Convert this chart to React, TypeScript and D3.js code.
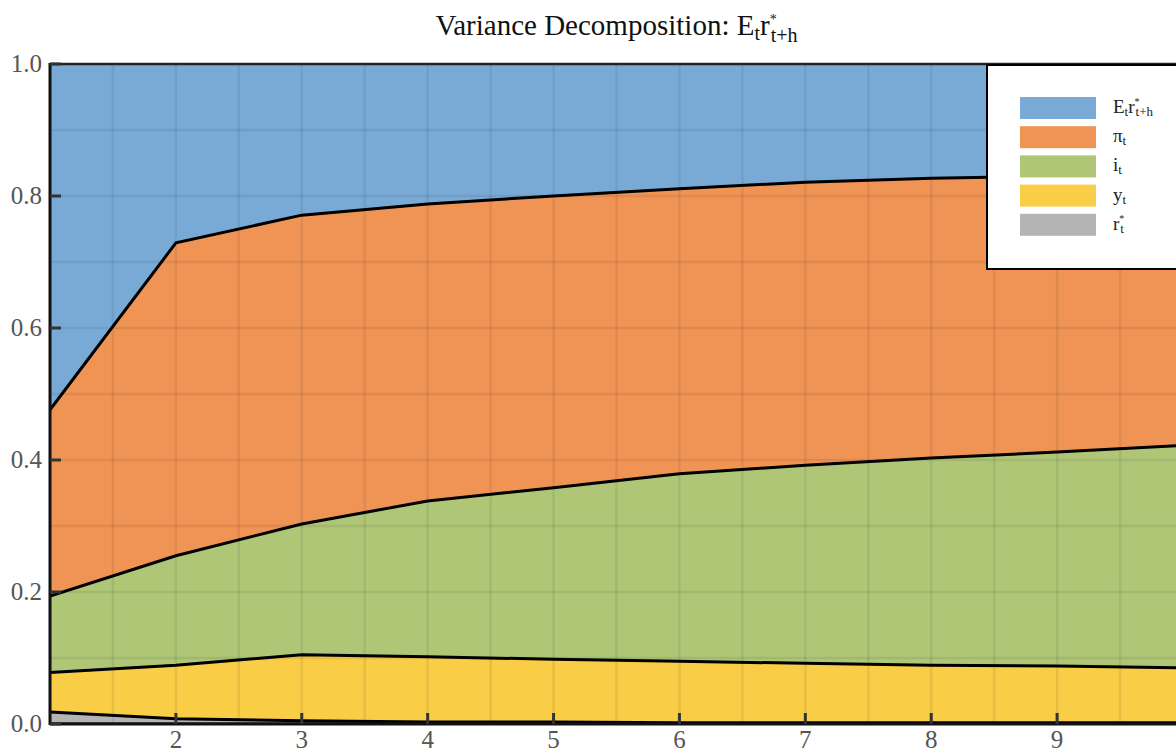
import React from "react";
import * as d3 from "d3";

const horizons = [1, 2, 3, 4, 5, 6, 7, 8, 9, 10];
const rStar = [0.018, 0.008, 0.005, 0.003, 0.003, 0.002, 0.002, 0.002, 0.002, 0.002];
const yGap = [0.06, 0.081, 0.1, 0.099, 0.095, 0.093, 0.09, 0.087, 0.086, 0.083];
const iRate = [0.116, 0.166, 0.198, 0.236, 0.26, 0.284, 0.3, 0.314, 0.324, 0.337];
const piInfl = [0.282, 0.474, 0.468, 0.45, 0.442, 0.432, 0.429, 0.424, 0.418, 0.41];
const expR = [0.524, 0.271, 0.229, 0.212, 0.2, 0.189, 0.179, 0.173, 0.17, 0.168];

const seriesKeys = ["rstar", "y", "i", "pi", "er"];
const seriesColors = ["#b4b4b4", "#f9cd46", "#afc677", "#ef9455", "#79aad5"];
const yTicks = [0, 0.2, 0.4, 0.6, 0.8, 1.0];
const xTicks = [2, 3, 4, 5, 6, 7, 8, 9];

const W = 1176, H = 753;
const left = 50, top = 64, plotRight = 1183, plotBottom = 724;

export default function App() {
  const x = d3.scaleLinear().domain([1, 10]).range([left, plotRight]);
  const y = d3.scaleLinear().domain([0, 1]).range([plotBottom, top]);
  const table = horizons.map((h, k) => ({
    h, rstar: rStar[k], y: yGap[k], i: iRate[k], pi: piInfl[k], er: expR[k],
  }));
  const stacked = d3.stack<any>().keys(seriesKeys)(table);
  const area = d3.area<any>().x((d) => x(d.data.h)).y0((d) => y(d[0])).y1((d) => y(d[1]));
  const line = d3.line<any>().x((d) => x(d.data.h)).y((d) => y(d[1]));
  const baseLine = d3.line<any>().x((d) => x(d.data.h)).y((d) => y(d[0]));

  const gridX = d3.range(1, 10.01, 0.5);
  const gridY = d3.range(0, 1.001, 0.1);
  const fontStyle = { fontFamily: '"Liberation Serif", "DejaVu Serif", serif' };

  const legendItems = [
    { key: "er", color: seriesColors[4] },
    { key: "pi", color: seriesColors[3] },
    { key: "i", color: seriesColors[2] },
    { key: "y", color: seriesColors[1] },
    { key: "rstar", color: seriesColors[0] },
  ];
  const legendLabel = (key: string) => {
    const sub = { fontSize: 13 };
    const sup = { fontSize: 10 };
    if (key === "er")
      return (
        <>
          <tspan>E</tspan>
          <tspan dy={3} style={sub}>t</tspan>
          <tspan dy={-3}>r</tspan>
          <tspan dy={-8} style={sup}>*</tspan>
          <tspan dx={-4} dy={11} style={sub}>t+h</tspan>
        </>
      );
    if (key === "pi") return (<><tspan>π</tspan><tspan dy={3} style={sub}>t</tspan></>);
    if (key === "i") return (<><tspan>i</tspan><tspan dy={3} style={sub}>t</tspan></>);
    if (key === "y") return (<><tspan>y</tspan><tspan dy={3} style={sub}>t</tspan></>);
    return (
      <>
        <tspan>r</tspan>
        <tspan dy={-8} style={sup}>*</tspan>
        <tspan dx={-4} dy={11} style={sub}>t</tspan>
      </>
    );
  };

  return (
    <div style={{ position: "absolute", left: 0, top: 0 }}>
      <svg width={W} height={H} style={{ display: "block", background: "#fff" }}>
        <defs>
          <clipPath id="plotclip">
            <rect x={left} y={top} width={plotRight - left} height={plotBottom - top} />
          </clipPath>
        </defs>
        <text x={(left + plotRight) / 2} y={35} textAnchor="middle" style={fontStyle} fontSize={29} fill="#111">
          <tspan>Variance Decomposition: E</tspan>
          <tspan dy={5} fontSize={20}>t</tspan>
          <tspan dy={-5}>r</tspan>
          <tspan dy={-11} fontSize={14}>*</tspan>
          <tspan dx={-6} dy={18} fontSize={20}>t+h</tspan>
        </text>
        <g clipPath="url(#plotclip)">
          {stacked.map((s, k) => (
            <path key={s.key} d={area(s) || ""} fill={seriesColors[k]} />
          ))}
          {gridX.map((g) => (
            <line key={"gx" + g} x1={x(g)} x2={x(g)} y1={top} y2={plotBottom} stroke="#000" strokeOpacity={0.07} strokeWidth={2.5} />
          ))}
          {gridY.map((g) => (
            <line key={"gy" + g} x1={left} x2={plotRight} y1={y(g)} y2={y(g)} stroke="#000" strokeOpacity={0.07} strokeWidth={2.5} />
          ))}
          <path d={baseLine(stacked[0]) || ""} fill="none" stroke="#000" strokeWidth={3} />
          {stacked.slice(0, 4).map((s) => (
            <path key={"l" + s.key} d={line(s) || ""} fill="none" stroke="#000" strokeWidth={3} />
          ))}
        </g>
        <line x1={left} x2={plotRight} y1={top} y2={top} stroke="#222" strokeWidth={2.5} />
        <line x1={left} x2={left} y1={top - 1} y2={plotBottom + 1} stroke="#111" strokeWidth={3} />
        <line x1={left} x2={plotRight} y1={plotBottom} y2={plotBottom} stroke="#111" strokeWidth={3} />
        {yTicks.map((t) => (
          <g key={"yt" + t}>
            <line x1={left} x2={left + 11} y1={y(t)} y2={y(t)} stroke="#333" strokeWidth={3} />
            <text x={42} y={y(t) + 8} textAnchor="end" style={fontStyle} fontSize={25} fill="#555">
              {d3.format(".1f")(t)}
            </text>
          </g>
        ))}
        {xTicks.map((t) => (
          <g key={"xt" + t}>
            <line x1={x(t)} x2={x(t)} y1={plotBottom} y2={plotBottom - 11} stroke="#333" strokeWidth={3} />
            <text x={x(t)} y={748} textAnchor="middle" style={fontStyle} fontSize={25} fill="#555">
              {t}
            </text>
          </g>
        ))}
        <line x1={x(10)} x2={x(10)} y1={plotBottom} y2={plotBottom - 11} stroke="#333" strokeWidth={3} />
        <rect x={987} y={65} width={220} height={204} fill="#fff" stroke="#000" strokeWidth={2} />
        {legendItems.map((it, k) => {
          const cy = 108 + k * 29.2;
          return (
            <g key={"lg" + it.key}>
              <rect x={1020} y={cy - 11} width={76} height={22} fill={it.color} />
              <text x={1113} y={cy + 5} style={fontStyle} fontSize={19} fill="#222">
                {legendLabel(it.key)}
              </text>
            </g>
          );
        })}
      </svg>
    </div>
  );
}
